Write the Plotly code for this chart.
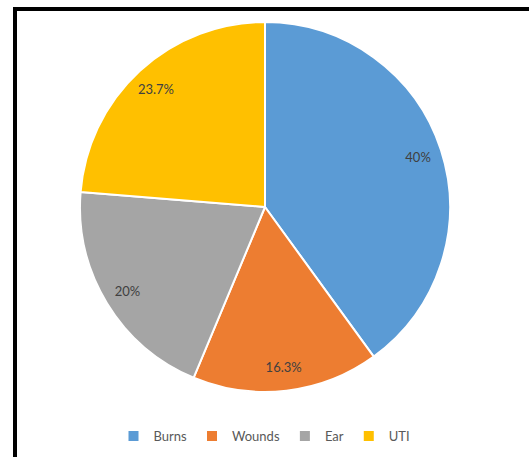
import plotly.graph_objects as go

categories = ["Burns", "Wounds", "Ear", "UTI"]
values = [40, 16.3, 20, 23.7]
text_labels = ["40%", "16.3%", "20%", "23.7%"]
colors = ["#5B9BD5", "#ED7D31", "#A5A5A5", "#FFC000"]

W, H = 529, 457
cx, cy, R = 265, 207, 185
domain = dict(x=[(cx - R) / W, (cx + R) / W], y=[(H - cy - R) / H, (H - cy + R) / H])

fig = go.Figure()
fig.add_trace(go.Pie(
    labels=categories,
    values=values,
    textinfo="none",
    sort=False,
    direction="clockwise",
    rotation=0,
    marker=dict(colors=colors, line=dict(color="white", width=2)),
    domain=domain,
    hoverinfo="label+percent",
))
# Transparent ring used only to place the percentage labels nearer the rim
fig.add_trace(go.Pie(
    labels=categories,
    values=values,
    text=text_labels,
    textinfo="text",
    textposition="inside",
    insidetextorientation="horizontal",
    hole=0.74,
    sort=False,
    direction="clockwise",
    rotation=0,
    marker=dict(colors=["rgba(0,0,0,0)"] * 4, line=dict(width=0)),
    textfont=dict(family="Lato", size=13, color="#404040"),
    domain=domain,
    showlegend=False,
    hoverinfo="skip",
))

fig.update_layout(
    width=W, height=H,
    margin=dict(l=0, r=0, t=0, b=0),
    paper_bgcolor="white",
    showlegend=True,
    legend=dict(orientation="h", x=0.5, xanchor="center", y=(H - 436) / H, yanchor="middle",
                font=dict(family="Lato", size=13, color="#595959"),
                itemwidth=30, traceorder="normal"),
    uniformtext=dict(minsize=13, mode="show"),
    shapes=[dict(type="rect", xref="paper", yref="paper",
                 x0=15 / W, x1=1.1, y0=-0.1, y1=1 - 9 / H,
                 line=dict(color="black", width=4))],
)

fig.write_html("out.html")
